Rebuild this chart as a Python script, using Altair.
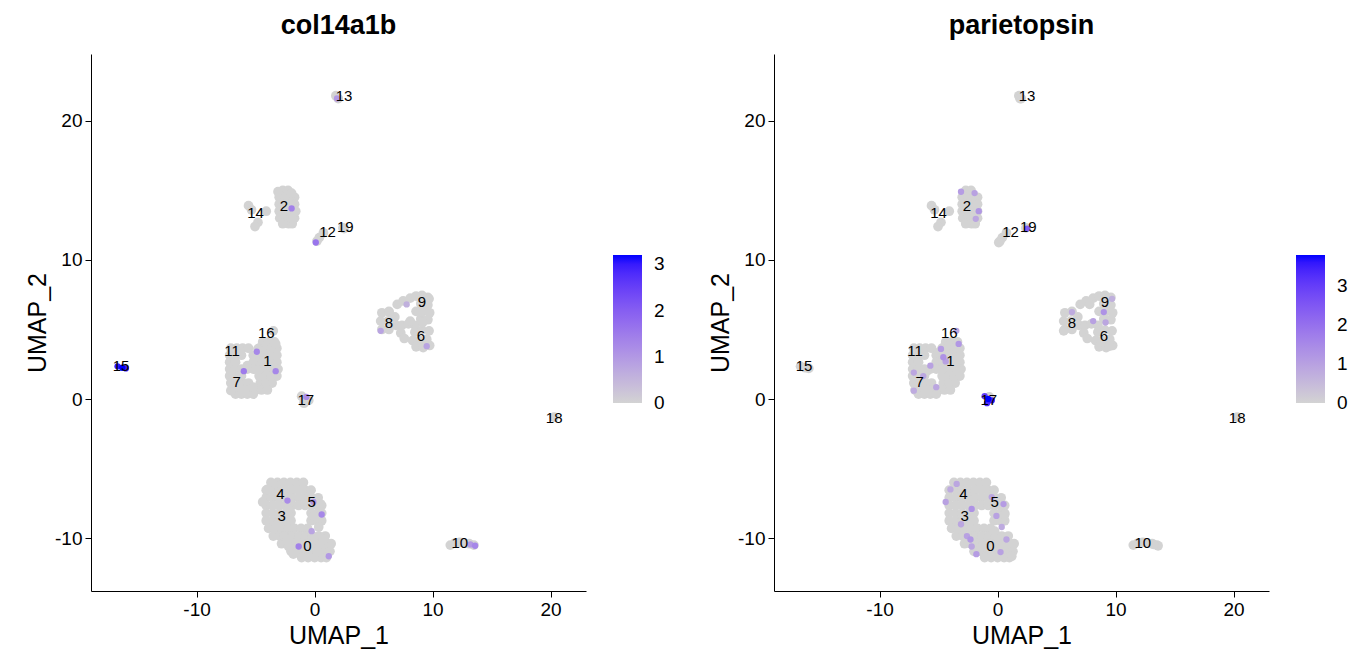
import altair as alt
import pandas as pd

# ---------------- cells with zero expression in both genes (UMAP coordinates) ----------------
c0345_x = [-3.7,-3.15,-2.6,-2.05,-1.5,-0.95,
           -4.1,-3.55,-3.0,-2.45,-1.9,-1.35,-0.8,-0.3,
           -4.1,-3.55,-3.0,-2.45,-1.9,-1.35,-0.8,-0.25,0.3,
           -4.1,-3.55,-3.0,-2.45,-1.9,-1.35,-0.8,-0.25,0.3,0.6,
           -4.1,-3.55,-3.0,-2.45,-2.0,-0.3,0.25,0.6,
           -4.1,-3.55,-3.0,-2.45,-2.0,-0.3,0.25,0.6,
           -3.9,-3.35,-2.8,-2.25,-1.7,-1.15,-0.6,
           -3.5,-2.95,-2.4,-1.85,-1.3,-0.75,-0.2,0.35,0.9,
           -2.8,-2.25,-1.7,-1.15,-0.6,-0.05,0.5,1.05,1.4,
           -2.0,-1.45,-0.9,-0.35,0.2,0.75,1.3,
           -1.1,-0.55,0.0,0.55,1.0]
c0345_y = [-6.0]*6 + [-6.55]*8 + [-7.1]*9 + [-7.65]*10 + [-8.2]*8 + [-8.75]*8 + \
          [-9.3]*7 + [-9.85]*9 + [-10.4]*9 + [-10.95]*7 + [-11.4]*5

c17116_x = [-4.4,-3.9,-3.4,
            -7.1,-6.6,-6.1,-5.6,-4.7,-4.2,-3.7,-3.2,
            -7.2,-6.7,-6.2,-5.2,-4.7,-4.2,-3.7,-3.2,
            -7.2,-6.7,-5.2,-4.7,-4.2,-3.7,-3.2,
            -7.2,-6.7,-6.2,-5.7,-5.2,-4.7,-4.2,-3.7,-3.1,
            -7.2,-6.7,-6.2,-4.7,-4.2,-3.7,-3.2,
            -7.1,-6.6,-6.1,-5.6,-4.6,-4.1,-3.6,
            -7.0,-6.5,-6.0,-5.5,-5.0,-4.5,-4.0,
            -6.7,-6.2,-5.7,-5.2]
c17116_y = [4.1]*3 + [3.65]*8 + [3.15]*8 + [2.65]*7 + [2.15]*9 + [1.65]*7 + \
           [1.15]*7 + [0.65]*7 + [0.35]*4

c869_x = [5.7,6.3,5.6,6.2,6.8,5.7,6.3,6.9,
          7.0,7.5,8.1,8.6,
          9.1,9.6,9.0,9.6,8.6,9.2,9.75,9.0,9.6,
          7.4,7.95,8.5,7.3,8.5,9.1,9.7,8.3,8.9,9.5,8.6,9.2,9.75,7.6]
c869_y = [6.2,6.3,5.6,5.6,5.9,5.0,5.0,5.3,
          6.8,7.05,7.25,7.4,
          7.45,7.3,6.85,6.75,6.3,6.3,6.2,5.75,5.7,
          5.3,5.4,5.3,4.75,4.8,4.95,4.9,4.2,4.2,4.3,3.75,3.7,3.85,4.35]

c2_x = [-2.7,-2.25, -3.0,-2.5,-2.0,-1.7, -3.0,-2.5,-2.0,-1.7,
        -3.0,-2.5,-2.0,-1.7, -2.95,-2.5,-2.0,-1.7, -2.7,-2.2,-1.9]
c2_y = [15.0]*2 + [14.5]*4 + [14.0]*4 + [13.5]*4 + [13.0]*4 + [12.6]*3

small_x = [-5.6,-5.35,-4.1,-4.8,-5.05,   # 14
           1.8,2.0,                      # 13
           0.4,0.75,0.2,                 # 12
           2.4,                          # 19
           11.5,11.9,12.3,12.7,13.1,13.5,  # 10
           20.3]                         # 18
small_y = [13.9,13.6,13.5,12.7,12.4,
           21.8,21.6,
           11.6,11.95,11.35,
           12.3,
           -10.5,-10.35,-10.3,-10.35,-10.4,-10.5,
           -1.3]

# ---------------- cells expressing col14a1b and/or parietopsin ----------------
expr_x = [-16.7,-16.3,-16.0,          # 15
          0.1, 1.9, -1.95,            # 12, 13, 2
          -6.0,-3.3,-4.9, -0.7,       # 1/7/11, 17
          5.6,9.5,7.8,                # 8/6/9
          -2.3,0.6,-1.35,1.2,-0.1,-0.25,  # 0/3/4/5
          13.6,13.2,                  # 10
          -1.1,-0.8,-0.5,-0.9,        # 17 (parietopsin)
          -3.47,-4.4,-2.2,-3.1,-2.6,-2.3,-0.5,0.5,-0.1,0.35,0.75,0.25,-1.8,-2.2,-4.0,
          6.3,9.0,8.1,9.15,9.7,
          -3.3,-4.6,-4.4,-5.7,-7.1,-6.3,-7.1,-5.2,-3.5,-4.8,
          -3.1,-1.95,-1.6,-1.85,
          2.5]
expr_y = [2.35,2.25,2.2,
          11.25,21.6,13.7,
          2.0,2.0,3.4,0.15,
          4.9,3.8,6.8,
          -7.3,-8.3,-10.6,-11.3,-7.4,-9.5,
          -10.55,-10.45,
          0.2,0.0,-0.1,-0.3,
          -6.1,-7.4,-7.9,-9.0,-9.85,-10.1,-7.05,-7.55,-8.4,-9.2,-10.1,-11.0,-11.15,-10.6,-6.5,
          6.25,6.25,5.6,5.5,7.2,
          3.96,3.0,2.7,2.4,1.9,1.65,0.6,0.85,4.9,3.6,
          14.9,14.8,13.5,12.95,
          12.25]
expr_col14a1b = [3.0,3.2,2.9,
                 1.6,1.0,1.4,
                 1.5,1.3,1.3,1.2,
                 0.8,0.8,0.6,
                 1.2,1.3,1.4,1.0,1.0,0.8,
                 1.3,1.0,
                 0,0,0,0,
                 0,0,0,0,0,0,0,0,0,0,0,0,0,0,0,
                 0,0,0,0,0,
                 0,0,0,0,0,0,0,0,0,0,
                 0,0,0,0,
                 0]
expr_parietopsin = [0,0,0,
                    0,0,0,
                    0,0,0,0,
                    0,0,0,
                    0,0,0,0,0,0,
                    0,0,
                    3.0,3.79,3.5,3.3,
                    0.9,1.0,1.3,0.9,1.0,1.2,0.9,1.1,1.0,0.8,0.9,1.0,1.1,0.9,0.8,
                    0.8,1.3,1.0,0.9,0.7,
                    1.2,1.3,1.0,1.0,0.9,0.9,0.8,0.9,0.9,1.1,
                    1.1,1.0,1.2,0.9,
                    2.4]

# ---------------- cluster labels ----------------
label_text = ["0","1","2","3","4","5","6","7","8","9","10","11","12","13","14","15","16","17","18","19"]
label_x = [-0.6,-4.0,-2.6,-2.8,-2.9,-0.25,9.0,-6.6,6.3,9.1,12.3,-7.0,1.1,2.5,-5.0,-16.4,-4.1,-0.75,20.3,2.6]
label_y = [-10.6,2.7,13.9,-8.4,-6.8,-7.4,4.5,1.2,5.5,7.0,-10.35,3.45,12.0,21.8,13.4,2.4,4.75,-0.1,-1.4,12.4]

genes = ["col14a1b", "parietopsin"]
gene_max = [3.2, 3.79]
legend_ticks = [0.001, 1, 2, 3]

fill_x = c0345_x + c17116_x + c869_x + c2_x + small_x
fill_y = c0345_y + c17116_y + c869_y + c2_y + small_y
cells = pd.DataFrame({
    "UMAP_1": fill_x + expr_x,
    "UMAP_2": fill_y + expr_y,
    "col14a1b": [0.0] * len(fill_x) + expr_col14a1b,
    "parietopsin": [0.0] * len(fill_x) + expr_parietopsin,
})
labels = pd.DataFrame({"UMAP_1": label_x, "UMAP_2": label_y, "label": label_text})

FONT = "Liberation Sans"
xscale = alt.Scale(domain=[-18.95, 23.0], nice=False, zero=False)
yscale = alt.Scale(domain=[-13.8, 24.8], nice=False, zero=False)


def panel(gene, vmax):
    df = cells.sort_values(gene, kind="stable").reset_index(drop=True)
    pts = alt.Chart(df).mark_circle(opacity=1, strokeWidth=0).encode(
        x=alt.X("UMAP_1:Q", scale=xscale, title="UMAP_1",
                axis=alt.Axis(values=[-10, 0, 10, 20], labelExpr="datum.value + ''")),
        y=alt.Y("UMAP_2:Q", scale=yscale, title="UMAP_2",
                axis=alt.Axis(values=[-10, 0, 10, 20], labelExpr="datum.value + ''")),
        color=alt.Color(f"{gene}:Q",
                        scale=alt.Scale(domain=[0, vmax], range=["#D3D3D3", "#0000FF"],
                                        interpolate="lab", nice=False, zero=True),
                        legend=alt.Legend(title=None, values=legend_ticks,
                                          labelExpr="round(datum.value) + ''",
                                          orient="none", legendX=522, legendY=201,
                                          gradientLength=148, gradientThickness=29,
                                          gradientStrokeWidth=0, labelFontSize=19,
                                          labelFont=FONT, labelColor="black",
                                          labelOffset=12, direction="vertical")),
        size=alt.condition(f"datum['{gene}'] > 0", alt.value(40), alt.value(95)),
    )
    txt = alt.Chart(labels).mark_text(fontSize=15, font=FONT, color="black",
                                      align="center", baseline="middle").encode(
        x="UMAP_1:Q", y="UMAP_2:Q", text="label:N")
    return alt.layer(pts, txt).properties(
        width=495, height=537,
        title=alt.TitleParams(gene, fontSize=27, fontWeight="bold", font=FONT,
                              color="black", anchor="middle", offset=14),
    )


chart = alt.hconcat(panel(genes[0], gene_max[0]), panel(genes[1], gene_max[1]),
                    spacing=43).resolve_scale(color="independent", size="independent")

chart = chart.configure_view(stroke=None).configure_axis(
    grid=False, domainColor="black", tickColor="black", tickSize=6,
    labelFont=FONT, titleFont=FONT, labelFontSize=19, titleFontSize=25,
    labelColor="black", titleColor="black", titleFontWeight="normal",
    labelPadding=3,
).properties(padding={"left": 17, "top": 4, "right": 5, "bottom": 5})

chart.save("out.html", embed_options={"renderer": "svg", "actions": False})
